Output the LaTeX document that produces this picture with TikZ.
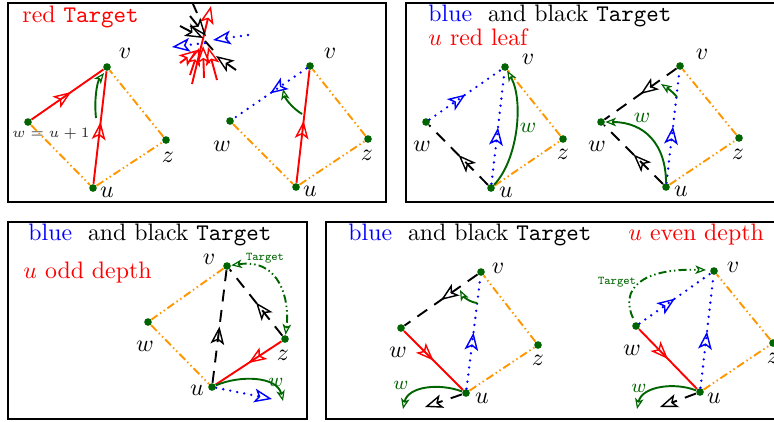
\documentclass[tikz,border=0pt]{standalone}
\usetikzlibrary{arrows.meta,decorations.markings}
\definecolor{vg}{RGB}{0,100,0}
\definecolor{org}{RGB}{255,150,0}
\begin{document}
\begin{tikzpicture}[x=0.42pt,y=-0.42pt,
 dot/.style={circle,fill=vg,inner sep=0pt,minimum size=3.2pt},
 lbl/.style={inner sep=0pt},
 oe/.style={org,thick,dash pattern=on 3.4pt off 1.3pt on 0.6pt off 1.3pt on 0.6pt off 1.3pt},
 re/.style={red,thick},
 be/.style={blue,line width=1.1pt,line cap=round,dash pattern=on 0pt off 3pt},
 ke/.style={black,thick,dash pattern=on 5pt off 3.6pt},
 ge/.style={vg,thick},
 gd/.style={vg,thick,dash pattern=on 3.4pt off 1.3pt on 0.6pt off 1.3pt on 0.6pt off 1.3pt},
 marr/.style={postaction={decorate},decoration={markings,mark=at position #1 with {\arrow{Stealth[open,length=7.5pt,width=5.8pt,inset=1.8pt,line width=0.6pt]}}}},
 marr/.default=0.55,
 otip/.style={-{Stealth[open,length=7.5pt,width=5.8pt,inset=1.8pt,line width=0.6pt]}},
 gtip/.style={-{Stealth[open,length=4.5pt,width=3.6pt,inset=1.2pt,line width=0.5pt]}},
 bord/.style={line width=1pt,black},
]
\useasboundingbox (0,0) rectangle (774,421);
\clip (0,0) rectangle (774,421);
% frames
\draw[bord] (8,3) rectangle (386,202);
\draw[bord] (406,3) rectangle (790,202);
\draw[bord] (8,222) rectangle (307,419);
\draw[bord] (326,222) rectangle (790,419);

% titles
\node[lbl,anchor=west,red] (t1) at (22,17) {red \texttt{Target}};
\node[lbl,anchor=west] (t2) at (428,16) {{\color{blue}blue}\ \ and black \texttt{Target}};
\node[lbl,anchor=west,red] (t2b) at (428,37) {$u$ red leaf};
\node[lbl,anchor=west] (t3) at (28,235) {{\color{blue}blue}\ \ and black \texttt{Target}};
\node[lbl,anchor=west,red] (t3b) at (23,273) {$u$ odd depth};
\node[lbl,anchor=west] (t4) at (348,235) {{\color{blue}blue}\ \ and black \texttt{Target}};
\node[lbl,anchor=west,red] (t4b) at (628,235) {$u$ even depth};

% ===== panel 1 left
\node[dot] (av) at (107,67) {};
\node[dot] (aw) at (28,122) {};
\node[dot] (az) at (166,140) {};
\node[dot] (au) at (93,188) {};
\node[lbl] at (125,53) {$v$};
\node[lbl,black!85] at (51,134) {\fontsize{6.2}{7}\selectfont $w=u+1$};
\node[lbl] at (168,157) {$z$};
\node[lbl] at (107,192) {$u$};
\draw[oe] (aw) -- (au);
\draw[oe] (au) -- (az);
\draw[oe] (az) -- (av);
\draw[re,marr] (aw) -- (av);
\draw[re,marr] (au) -- (av);
\coordinate (ag1) at (96,118);
\coordinate (ag2) at (104,73);
\draw[ge,gtip] (ag1) .. controls (94,100) and (97,82) .. (ag2);

% ===== panel 1 right
\node[dot] (bv) at (310,66) {};
\node[dot] (bw) at (230,121) {};
\node[dot] (bz) at (368,139) {};
\node[dot] (bu) at (296,187) {};
\node[lbl] at (330,53) {$v$};
\node[lbl] at (222,146) {$w$};
\node[lbl] at (367,155) {$z$};
\node[lbl] at (310,191) {$u$};
\draw[oe] (bw) -- (bu);
\draw[oe] (bu) -- (bz);
\draw[oe] (bz) -- (bv);
\draw[be,marr=0.5] (bv) -- (bw);
\draw[re,marr] (bu) -- (bv);
\coordinate (bg1) at (302,114);
\coordinate (bg2) at (283,89);
\draw[ge,gtip] (bg1) .. controls (292,108) and (285,98) .. (bg2);

% ===== cluster
\draw[re,otip] (192,84) -- (211,6);
\draw[re,otip] (217,80) -- (208,47);
\draw[re,otip] (204,78) -- (203,46);
\draw[re,otip] (180,63) -- (197,50);
\draw[re,otip] (190,75) -- (199,48);
\draw[thick,otip] (180,26) -- (203,38);
\draw[thick,otip] (190,16) -- (206,36);
\draw[thick] (193,4) -- (197,13);
\draw[thick] (205,41) -- (213,50);
\draw[thick,otip] (236,70) -- (216,56);
\draw[be,otip] (248,35) -- (213,40);
\draw[be,otip] (205,43) -- (172,47);

% ===== panel 2 left
\node[dot] (cv) at (505,67) {};
\node[dot] (cw) at (426,122) {};
\node[dot] (cz) at (563,139) {};
\node[dot] (cu) at (491,188) {};
\node[lbl] at (528,59) {$v$};
\node[lbl] at (422,146) {$w$};
\node[lbl] at (563,154) {$z$};
\node[lbl] at (506,192) {$u$};
\draw[oe] (cu) -- (cz);
\draw[oe] (cz) -- (cv);
\draw[be,marr=0.5] (cw) -- (cv);
\draw[be,marr=0.5] (cu) -- (cv);
\draw[ke,marr=0.5] (cu) -- (cw);
\draw[ge,gtip] (cu) .. controls (518,160) and (524,100) .. (cv);
\node[lbl,vg] at (528,128) {\small $w$};

% ===== panel 2 right
\node[dot] (dv) at (680,66) {};
\node[dot] (dw) at (601,122) {};
\node[dot] (dz) at (739,138) {};
\node[dot] (du) at (666,187) {};
\node[lbl] at (702,54) {$v$};
\node[lbl] at (597,146) {$w$};
\node[lbl] at (738,154) {$z$};
\node[lbl] at (681,191) {$u$};
\draw[oe] (du) -- (dz);
\draw[oe] (dz) -- (dv);
\draw[ke,marr=0.5] (dv) -- (dw);
\draw[be,marr=0.5] (du) -- (dv);
\draw[ke,marr=0.5] (du) -- (dw);
\draw[ge,gtip] (du) .. controls (666,145) and (645,122) .. (dw);
\node[lbl,vg] at (642,118) {\small $w$};
\coordinate (dg1) at (677,97);
\coordinate (dg2) at (661,84);
\draw[ge,gtip] (dg1) .. controls (672,91) and (667,88) .. (dg2);

% ===== panel 3
\node[dot] (ev) at (227,266) {};
\node[dot] (ew) at (148,322) {};
\node[dot] (ez) at (285,339) {};
\node[dot] (eu) at (212,387) {};
\node[lbl] at (209,259) {$v$};
\node[lbl] at (145,346) {$w$};
\node[lbl] at (283,355) {$z$};
\node[lbl] at (197,390) {$u$};
\draw[oe] (ev) -- (ew);
\draw[oe] (ew) -- (eu);
\draw[ke,marr=0.5] (eu) -- (ev);
\draw[ke,marr=0.5] (ez) -- (ev);
\draw[re,marr=0.5] (ez) -- (eu);
\draw[gd,{Stealth[open,length=4.5pt,width=3.6pt,inset=1.2pt,line width=0.5pt]}-{Stealth[open,length=4.5pt,width=3.6pt,inset=1.2pt,line width=0.5pt]}] (ev) .. controls (280,258) and (290,300) .. (ez);
\node[lbl,vg] at (265,258) {\tiny\texttt{Target}};
\coordinate (ee1) at (283,401);
\draw[ge,gtip] (eu) .. controls (240,375) and (277,376) .. (ee1);
\node[lbl,vg] at (276,382) {\footnotesize $w$};
\coordinate (ee2) at (272,399);
\draw[be,otip] (eu) -- (ee2);

% ===== panel 4 left
\node[dot] (fv) at (481,272) {};
\node[dot] (fw) at (401,328) {};
\node[dot] (fz) at (538,345) {};
\node[dot] (fu) at (466,393) {};
\node[lbl] at (498,268) {$v$};
\node[lbl] at (398,352) {$w$};
\node[lbl] at (538,360) {$z$};
\node[lbl] at (482,398) {$u$};
\draw[oe] (fu) -- (fz);
\draw[oe] (fz) -- (fv);
\draw[ke,marr=0.5] (fv) -- (fw);
\draw[be,marr=0.5] (fu) -- (fv);
\draw[re,marr=0.5] (fw) -- (fu);
\coordinate (fg1) at (477,303);
\coordinate (fg2) at (460,290);
\draw[ge,gtip] (fg1) .. controls (469,302) and (463,296) .. (fg2);
\coordinate (fe1) at (403,409);
\draw[ge,gtip] (fu) .. controls (440,383) and (408,386) .. (fe1);
\node[lbl,vg] at (401,385) {\footnotesize $w$};
\coordinate (fe2) at (425,407);
\draw[ke,otip] (fu) -- (fe2);

% ===== panel 4 right
\node[dot] (gv) at (714,271) {};
\node[dot] (gw) at (636,326) {};
\node[dot] (gz) at (773,343) {};
\node[dot] (gu) at (700,392) {};
\node[lbl] at (733,267) {$v$};
\node[lbl] at (632,350) {$w$};
\node[lbl] at (773,358) {$z$};
\node[lbl] at (714,398) {$u$};
\draw[oe] (gu) -- (gz);
\draw[oe] (gz) -- (gv);
\draw[be,marr=0.5] (gw) -- (gv);
\draw[be,marr=0.5] (gu) -- (gv);
\draw[re,marr=0.5] (gw) -- (gu);
\coordinate (gt1) at (633,318);
\coordinate (gt2) at (706,270);
\draw[gd,gtip] (gt1) .. controls (620,290) and (640,268) .. (gt2);
\node[lbl,vg] at (617,282) {\tiny\texttt{Target}};
\coordinate (ge1) at (637,409);
\draw[ge,gtip] (gu) .. controls (675,382) and (642,386) .. (ge1);
\node[lbl,vg] at (639,388) {\footnotesize $w$};
\coordinate (ge2) at (660,407);
\draw[ke,otip] (gu) -- (ge2);
\end{tikzpicture}
\end{document}
